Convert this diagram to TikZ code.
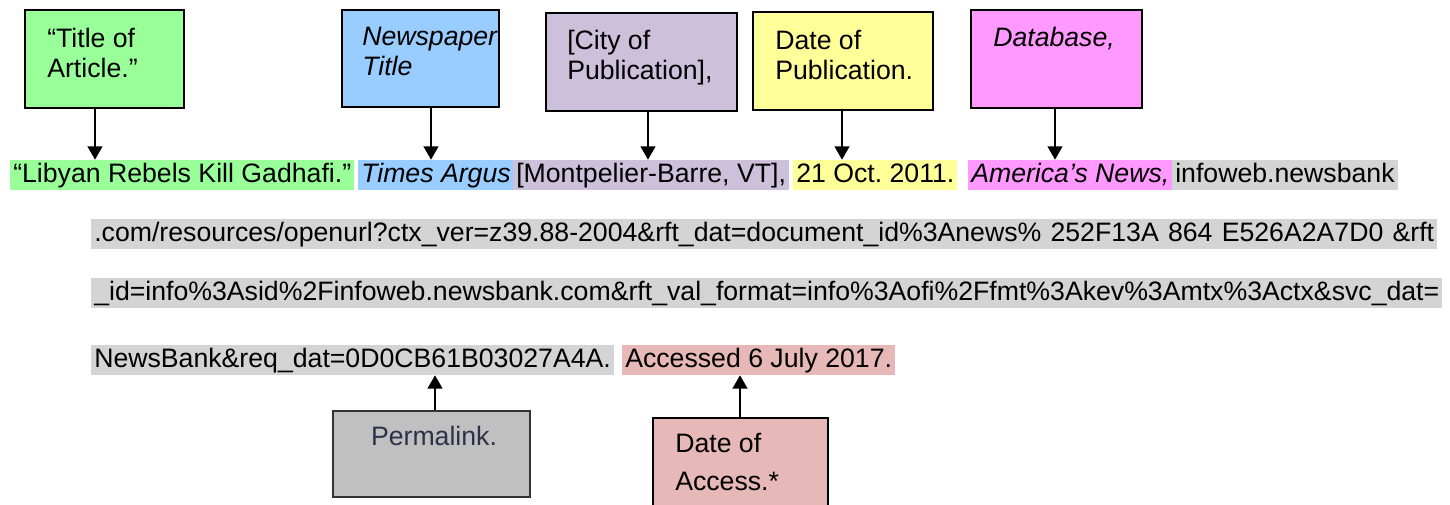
\documentclass[tikz,border=0pt]{standalone}
\usepackage{fontspec}
\setmainfont{Liberation Sans}
\usetikzlibrary{arrows.meta,fit}
\definecolor{cgreen}{HTML}{99FF99}
\definecolor{cblue}{HTML}{99CCFF}
\definecolor{cpurple}{HTML}{CCC0DA}
\definecolor{cyellow}{HTML}{FFFF99}
\definecolor{cpink}{HTML}{FF99FF}
\definecolor{cgray}{HTML}{D4D4D4}
\definecolor{cperma}{HTML}{C0C0C0}
\definecolor{caccess}{HTML}{E6B8B7}
\definecolor{ctext}{HTML}{30304A}
\frenchspacing
\begin{document}
\begin{tikzpicture}[x=0.75pt,y=-0.75pt,
  font=\fontsize{20}{22.5}\selectfont\frenchspacing,
  box/.style={draw=black, line width=1.2pt, inner sep=0pt},
  boxtext/.style={anchor=north west, inner sep=0pt, align=left},
  hl/.style={anchor=base west, inner xsep=2.25pt, inner ysep=0pt, text height=17.25pt, text depth=5.25pt},
  arr/.style={line width=1.5pt, -{Triangle[width=11pt,length=10pt]}}]
\useasboundingbox (0,0) rectangle (1450,505);
\clip (0,0) rectangle (1450,505);

% top boxes
\node[box, fill=cgreen, fit={(25,10) (184,108)}] (b1) {};
\node[boxtext] (b1t) at (47,28) {“Title of\\Article.”};
\node[box, fill=cblue, fit={(342,10) (499,107)}] (b2) {};
\node[boxtext] (b2t) at (362,27) {\itshape Newspaper\\\itshape Title};
\node[box, fill=cpurple, fit={(546,13) (737,111)}] (b3) {};
\node[boxtext] (b3t) at (567,30) {[City of\\Publication],};
\node[box, fill=cyellow, fit={(753,12) (933,110)}] (b4) {};
\node[boxtext] (b4t) at (775,30) {Date of\\Publication.};
\node[box, fill=cpink, fit={(971,10) (1142,108)}] (b5) {};
\node[boxtext] (b5t) at (993,27) {\itshape Database,};

% citation lines
\node[hl, fill=cgreen] (t1) at (10,183) {“Libyan Rebels Kill Gadhafi.”};
\node[hl, fill=cblue] (t2) at (358,183) {\itshape Times Argus};
\node[hl, fill=cpurple] (t3) at (513,183) {[Montpelier-Barre, VT],};
\node[hl, fill=cyellow] (t4) at (793,183) {21 Oct. 2011.\ };
\node[hl, fill=cpink] (t5) at (968,183) {\itshape America’s News,};
\node[hl, fill=cgray] (t6) at (1172,183) {infoweb.newsbank};
\node[hl, fill=cgray] (u1) at (91,242) {\makebox[1005pt][s]{.com/resources/openurl?ctx\_ver=z39.88-2004\&rft\_dat=document\_id\%3Anews\% 252F13A 864 E526A2A7D0 \&rft}};
\node[hl, fill=cgray] (u2) at (91,301) {\_id=info\%3Asid\%2Finfoweb.newsbank.com\&rft\_val\_format=info\%3Aofi\%2Ffmt\%3Akev\%3Amtx\%3Actx\&svc\_dat=};
\node[hl, fill=cgray] (u3) at (91,368) {NewsBank\&req\_dat=0D0CB61B03027A4A.};
\node[hl, fill=caccess] (u4) at (622,368) {Accessed 6 July 2017.};

% bottom boxes
\node[box, fill=cperma, draw=black!80, fit={(333,411) (530,497)}] (b6) {};
\node[anchor=north, inner sep=0pt, text=ctext] (b6t) at (434,426) {Permalink.};
\node[box, fill=caccess, fit={(653,418) (828,520)}] (b7) {};
\node[boxtext] (b7t) at (675,433) {Date of\\[6pt]Access.*};

% arrows
\coordinate (x1) at (95,0);
\coordinate (x2) at (431,0);
\coordinate (x3) at (648,0);
\coordinate (x4) at (842,0);
\coordinate (x5) at (1055,0);
\coordinate (x6) at (435,0);
\coordinate (x7) at (740,0);
\draw[arr] (b1.south -| x1) -- (t1.north -| x1);
\draw[arr] (b2.south -| x2) -- (t2.north -| x2);
\draw[arr] (b3.south -| x3) -- (t3.north -| x3);
\draw[arr] (b4.south -| x4) -- (t4.north -| x4);
\draw[arr] (b5.south -| x5) -- (t5.north -| x5);
\draw[arr] (b6.north -| x6) -- (u3.south -| x6);
\draw[arr] (b7.north -| x7) -- (u4.south -| x7);
\end{tikzpicture}
\end{document}
